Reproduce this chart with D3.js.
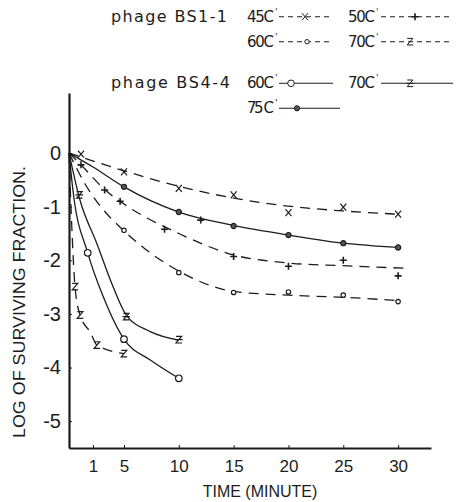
<!DOCTYPE html>
<html lang="en">
<head>
<meta charset="UTF-8">
<title>Phage heat inactivation</title>
<script src="https://cdnjs.cloudflare.com/ajax/libs/d3/7.8.5/d3.min.js"></script>
<style>
  body { margin: 0; background: #fff; }
  svg { display: block; font-family: "Liberation Sans", Arial, sans-serif; }
</style>
</head>
<body>
<svg id="chart" width="458" height="502"></svg>
<script>
// ticks
const timeTicks = [1, 5, 10, 15, 20, 25, 30];
const logTicks = [0, -1, -2, -3, -4, -5];

// [time (min), log surviving fraction]
// phage BS1-1
const bs11_45_curve = [[0, 0], [5, -0.33], [10, -0.62], [15, -0.84], [20, -0.99], [25, -1.08], [30, -1.14]];
const bs11_45_pts = [[0.5, -0.02], [5, -0.35], [10, -0.66], [15, -0.78], [20, -1.11], [25, -1.01], [30, -1.14]];
const bs11_50_curve = [[0, 0], [0.5, -0.22], [2.5, -0.68], [5, -0.95], [10, -1.5], [15, -1.9], [20, -2.05], [25, -2.1], [31, -2.15]];
const bs11_50_pts = [[0.5, -0.22], [2.5, -0.69], [4.5, -0.9], [8.7, -1.42], [12, -1.25], [15, -1.93], [20, -2.11], [25, -2.0], [30, -2.29]];
const bs11_60_curve = [[0, 0], [0.7, -0.6], [2, -1.0], [5, -1.45], [10, -2.2], [15, -2.58], [20, -2.65], [25, -2.69], [30, -2.75]];
const bs11_60_pts = [[5, -1.44], [10, -2.23], [15, -2.6], [20, -2.59], [25, -2.65], [30, -2.77]];
const bs11_70_curve = [[0, 0], [0.1, -1.2], [0.25, -2.49], [0.46, -3.02], [0.9, -3.35], [1.5, -3.58], [5, -3.74]];
const bs11_70_pts = [[0.25, -2.49], [0.46, -3.02], [1.5, -3.58], [5, -3.74]];
// phage BS4-4
const bs44_60_curve = [[0, 0], [0.18, -0.75], [0.78, -1.86], [2.33, -2.68], [5, -3.47], [7.4, -3.86], [10, -4.2]];
const bs44_60_pts = [[0.78, -1.86], [5, -3.47], [10, -4.2]];
const bs44_70_curve = [[0, 0], [0.46, -0.88], [1.48, -1.68], [3.58, -2.49], [5.2, -3.02], [7.4, -3.33], [10, -3.49]];
const bs44_70_pts = [[0.43, -0.78], [5.2, -3.05], [10, -3.48]];
const bs44_75_curve = [[0, 0], [1, -0.26], [5, -0.63], [10, -1.1], [15, -1.35], [20, -1.53], [25, -1.68], [30, -1.76]];
const bs44_75_pts = [[5, -0.63], [10, -1.1], [15, -1.36], [20, -1.53], [25, -1.68], [30, -1.76]];

const strainLabels = ["phage BS1-1", "phage BS4-4"];
const tempLabels = ["45C", "50C", "60C", "70C", "60C", "70C", "75 C"];

const ink = "#1c1c1c";

// series styling (dashed = BS1-1, solid = BS4-4)
const series = [
  {curve: bs11_45_curve, pts: bs11_45_pts, dashed: true, marker: "x"},
  {curve: bs11_50_curve, pts: bs11_50_pts, dashed: true, marker: "plus"},
  {curve: bs11_60_curve, pts: bs11_60_pts, dashed: true, marker: "small-o"},
  {curve: bs11_70_curve, pts: bs11_70_pts, dashed: true, marker: "z"},
  {curve: bs44_60_curve, pts: bs44_60_pts, dashed: false, marker: "o"},
  {curve: bs44_70_curve, pts: bs44_70_pts, dashed: false, marker: "zbar"},
  {curve: bs44_75_curve, pts: bs44_75_pts, dashed: false, marker: "dot"}
];

const svg = d3.select("#chart");

// the time axis is stretched for the first minutes
const x = d3.scaleLinear().domain([0, 1, 5, 33]).range([69, 93, 124, 431]);
const y = d3.scaleLinear().domain([1.12, -5.5]).range([93, 448]);

function drawMarker(g, type) {
  if (type === "x") {
    g.append("path").attr("d", "M-3,-3.5L3,3.5M3,-3.5L-3,3.5");
  } else if (type === "plus") {
    g.append("path").attr("d", "M-3.5,0H3.5M0,-3.5V3.5").attr("stroke-width", 1.6);
  } else if (type === "small-o") {
    g.append("circle").attr("r", 2.2).attr("fill", "#fff");
  } else if (type === "o") {
    g.append("circle").attr("r", 3.3).attr("fill", "#fff");
  } else if (type === "z") {
    g.append("path").attr("d", "M-2.8,-3.3H2.8L-2.8,3.3H3.2");
  } else if (type === "zbar") {
    g.append("path").attr("d", "M-2.8,-3.3H2.8L-2.8,3.3H3.2M-3.8,0H3.8");
  } else if (type === "dot") {
    g.append("circle").attr("r", 2.6).attr("fill", "#555");
  }
}

// axes
const xAxis = svg.append("g")
  .attr("transform", "translate(0,448)")
  .call(d3.axisBottom(x).tickValues(timeTicks).tickSize(-3).tickSizeOuter(0).tickPadding(12)
    .tickFormat(d => String(d)));
xAxis.select(".domain").attr("stroke", ink).attr("stroke-width", 2);
xAxis.selectAll(".tick line").attr("stroke", ink);
xAxis.selectAll("text").attr("font-size", 17).attr("fill", ink)
  .attr("font-family", "Liberation Sans, Arial, sans-serif");

const yAxis = svg.append("g")
  .attr("transform", "translate(69,0)")
  .call(d3.axisLeft(y).tickValues(logTicks).tickSize(-3).tickSizeOuter(0).tickPadding(8)
    .tickFormat(d => String(d)));
yAxis.select(".domain").attr("stroke", ink).attr("stroke-width", 2.2);
yAxis.selectAll(".tick line").attr("stroke", ink);
yAxis.selectAll("text").attr("font-size", 20).attr("fill", ink)
  .attr("font-family", "Liberation Sans, Arial, sans-serif");

// axis titles
svg.append("text")
  .attr("x", 260).attr("y", 497)
  .attr("text-anchor", "middle")
  .attr("font-size", 16).attr("fill", ink)
  .text("TIME (MINUTE)");

svg.append("text")
  .attr("transform", "translate(25,302) rotate(-90)")
  .attr("text-anchor", "middle")
  .attr("font-size", 17).attr("fill", ink)
  .attr("textLength", 272).attr("lengthAdjust", "spacingAndGlyphs")
  .text("LOG OF SURVIVING FRACTION.");

// curves
const line = d3.line()
  .x(d => x(d[0]))
  .y(d => y(d[1]))
  .curve(d3.curveMonotoneX);

series.forEach(s => {
  svg.append("path")
    .datum(s.curve)
    .attr("fill", "none")
    .attr("stroke", ink)
    .attr("stroke-width", 1.3)
    .attr("stroke-dasharray", s.dashed ? "10,7" : null)
    .attr("d", line);
});

series.forEach(s => {
  svg.append("g")
    .selectAll("g")
    .data(s.pts)
    .join("g")
      .attr("transform", d => `translate(${x(d[0])},${y(d[1])})`)
      .attr("stroke", ink).attr("stroke-width", 1.2).attr("fill", "none")
      .each(function() { drawMarker(d3.select(this), s.marker); });
});

// legend
const legend = svg.append("g").attr("fill", ink)
  .style("font-family", "'DejaVu Sans', sans-serif");
const rowBase = [21.7, 46.7, 88.3, 113.3];
// [row, textX, lineX1, lineX2, markerX] for each temperature entry
const legendLayout = [
  [0, 247, 279, 333, 305],
  [0, 348, 381, 453, 415],
  [1, 247, 279, 333, 307],
  [1, 348, 381, 453, 410],
  [2, 247, 279, 333, 291],
  [2, 348, 381, 453, 410],
  [3, 247, 279, 340, 297]
];

legend.append("text").attr("x", 111).attr("y", rowBase[0])
  .attr("font-size", 16).attr("textLength", 116).attr("lengthAdjust", "spacing")
  .text(strainLabels[0]);
legend.append("text").attr("x", 111).attr("y", rowBase[2])
  .attr("font-size", 16).attr("textLength", 119).attr("lengthAdjust", "spacing")
  .text(strainLabels[1]);

tempLabels.forEach((t, i) => {
  const [row, tx, lx1, lx2, mx] = legendLayout[i];
  const s = series[i];
  const yb = rowBase[row];
  legend.append("text").attr("x", tx).attr("y", yb)
    .attr("font-size", 15).attr("textLength", 27).attr("lengthAdjust", "spacing")
    .text(t);
  legend.append("text").attr("x", tx + 28).attr("y", yb - 7)
    .attr("font-size", 9).text("'");
  legend.append("line")
    .attr("x1", lx1).attr("x2", lx2).attr("y1", yb - 5).attr("y2", yb - 5)
    .attr("stroke", ink).attr("stroke-width", 1.1)
    .attr("stroke-dasharray", s.dashed ? "5,4" : null);
  const mg = legend.append("g")
    .attr("transform", `translate(${mx},${yb - 5})`)
    .attr("stroke", ink).attr("stroke-width", 1).attr("fill", "none");
  drawMarker(mg, s.marker);
});
</script>
</body>
</html>
